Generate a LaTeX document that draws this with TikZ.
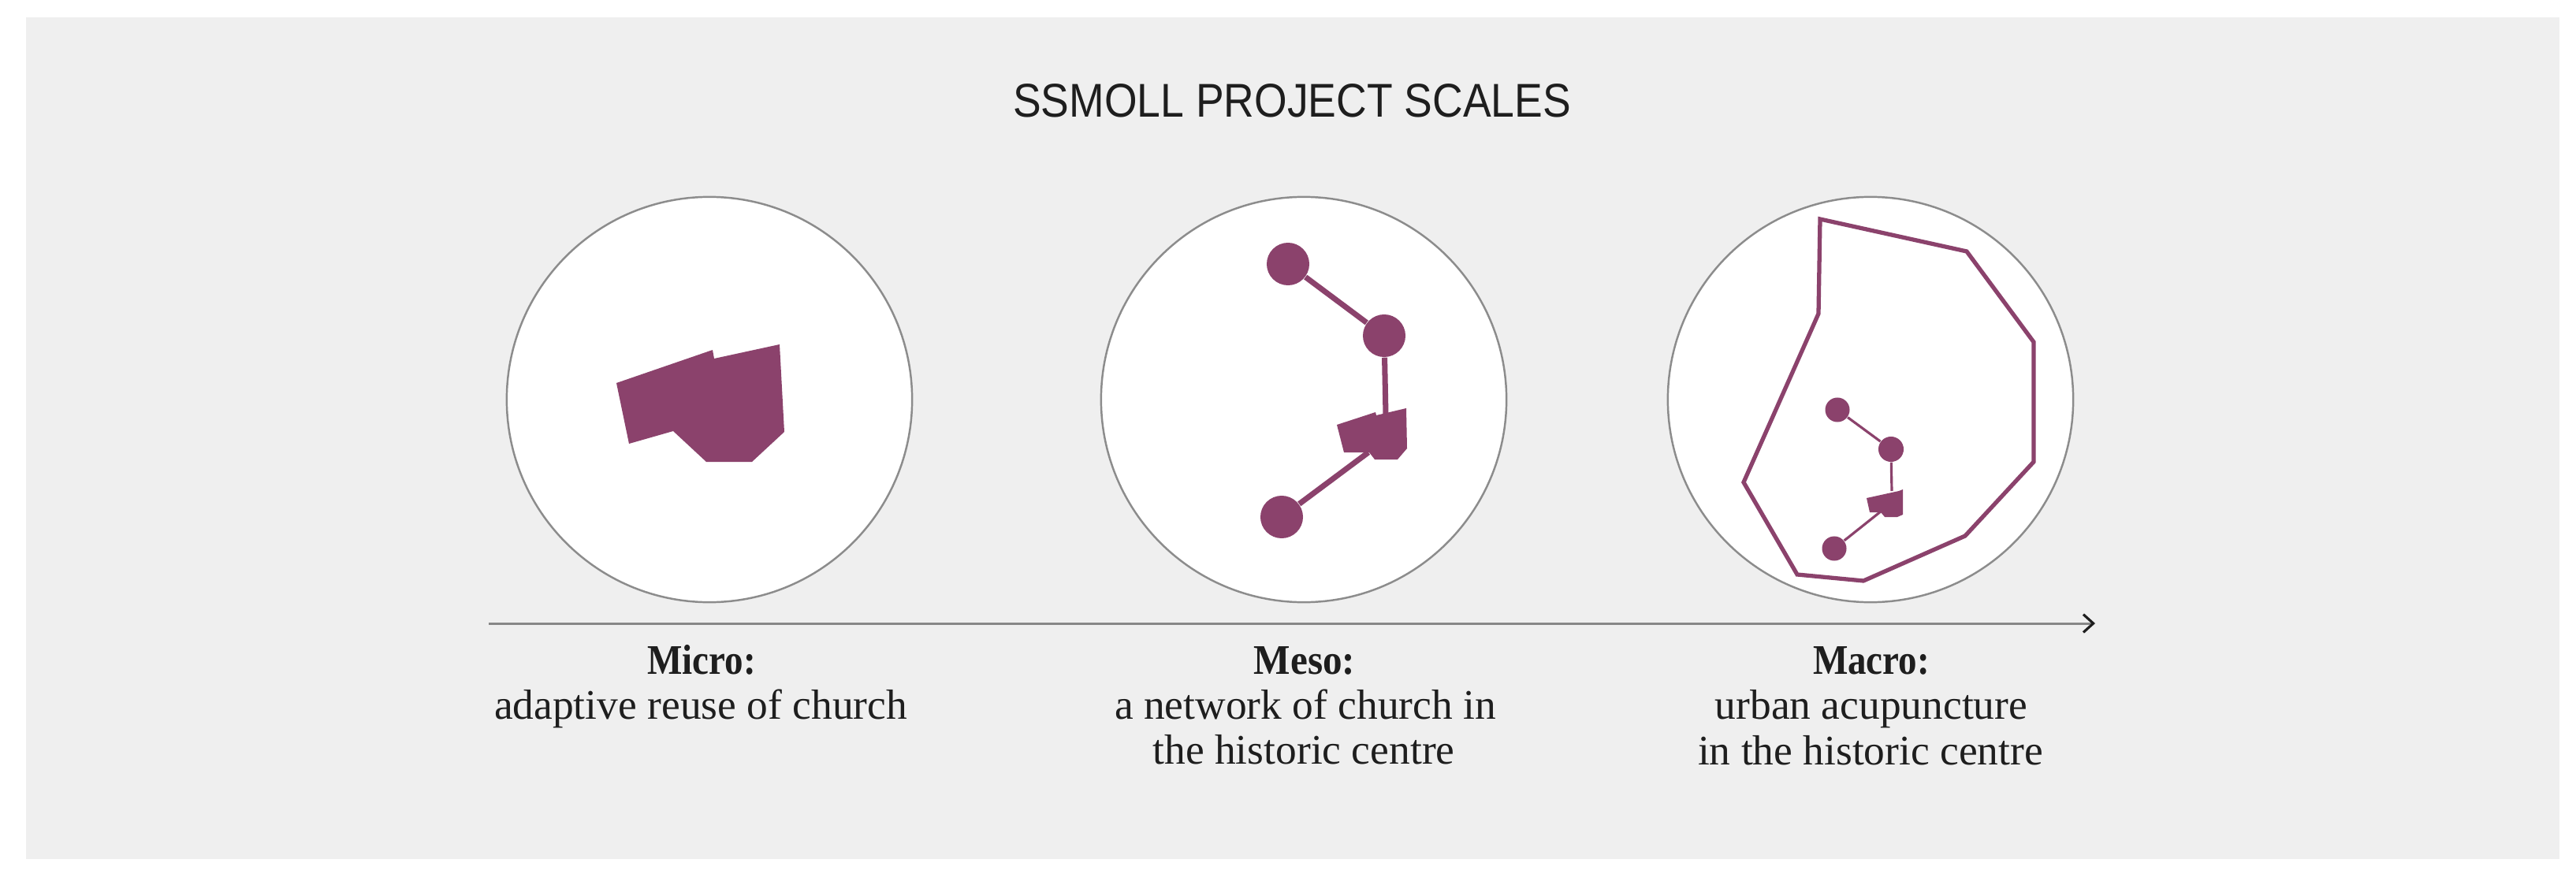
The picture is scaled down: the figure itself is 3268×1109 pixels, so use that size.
\documentclass[tikz,border=0pt]{standalone}
\usepackage{fontspec}
\setmainfont{Liberation Serif}
\newfontfamily\titlefont{Liberation Sans}
\usetikzlibrary{arrows.meta}
\definecolor{bgpanel}{RGB}{239,239,239}
\definecolor{plum}{RGB}{139,66,108}
\definecolor{ringgray}{RGB}{140,140,140}
\definecolor{axisgray}{RGB}{135,135,135}
\definecolor{inkdark}{RGB}{30,30,30}
\tikzset{
  ring/.style={circle, draw=ringgray, line width=0.7pt, fill=white, minimum size=5.14cm, inner sep=0pt},
  bigdot/.style={circle, fill=plum, minimum size=0.54cm, inner sep=0pt},
  smalldot/.style={circle, fill=plum, minimum size=0.31cm, inner sep=0pt},
  church/.style={fill=plum, draw=none},
  thicklink/.style={draw=plum, line width=2pt},
  thinlink/.style={draw=plum, line width=0.9pt},
  boundary/.style={draw=plum, line width=1.5pt, line join=miter},
  titletxt/.style={anchor=base, inner sep=0pt, text=inkdark, font=\titlefont\fontsize{17.1pt}{20pt}\selectfont},
  headtxt/.style={anchor=base, inner sep=0pt, text=inkdark, font=\bfseries\fontsize{15.2pt}{18pt}\selectfont},
  bodytxt/.style={anchor=base, inner sep=0pt, text=inkdark, font=\fontsize{15.2pt}{18pt}\selectfont},
}
\begin{document}
\begin{tikzpicture}[x=0.01cm,y=-0.01cm]
\useasboundingbox (0,0) rectangle (3268,1109);
\fill[bgpanel] (33,22) rectangle (3247,1090);

% title
\node[titletxt] (title) at (1639,148) {\scalebox{0.89}[1]{SSMOLL PROJECT SCALES}};

% rings
\node[ring] (ringmicro) at (900,507) {};
\node[ring] (ringmeso) at (1654,507) {};
\node[ring] (ringmacro) at (2373,507) {};

% micro: single church
\fill[church] (782,486) -- (904,444) -- (906,455) -- (989,437) -- (995,548) -- (954,586) -- (896,586) -- (854,547) -- (798,563) -- cycle;

% meso: network
\node[bigdot] (mesoA) at (1634,335) {};
\node[bigdot] (mesoB) at (1756,426) {};
\node[bigdot] (mesoC) at (1626,656) {};
\coordinate (mesoin) at (1758,526);
\coordinate (mesoout) at (1736,574);
\draw[thicklink] (mesoA) -- (mesoB);
\draw[thicklink] (mesoB) -- (mesoin);
\draw[thicklink] (mesoC) -- (mesoout);
\fill[church] (1696,539) -- (1745,523) -- (1746,527) -- (1784,518) -- (1785,569) -- (1773,583) -- (1744,583) -- (1737,574) -- (1705,574) -- cycle;

% macro: boundary and network
\draw[boundary] (2309,278) -- (2495,319) -- (2580,434) -- (2580,586) -- (2493,680) -- (2364,737) -- (2280,729) -- (2212,612) -- (2307,398) -- cycle;
\node[smalldot] (macroA) at (2331,520) {};
\node[smalldot, minimum size=0.32cm] (macroB) at (2399,570) {};
\node[smalldot] (macroC) at (2327,696) {};
\coordinate (macroin) at (2400,623);
\coordinate (macroout) at (2386,649);
\draw[thinlink] (macroA) -- (macroB);
\draw[thinlink] (macroB) -- (macroin);
\draw[thinlink] (macroC) -- (macroout);
\fill[church] (2368,632) -- (2409,623) -- (2414,621) -- (2414,653) -- (2407,656) -- (2391,656) -- (2386,650) -- (2372,650) -- cycle;

% axis
\coordinate (axisL) at (620,791);
\coordinate (axisR) at (2658,791);
\draw[axisgray, line width=0.85pt, -{Straight Barb[length=3.6pt, width=6.5pt, color=inkdark, line width=0.9pt]}] (axisL) -- (axisR);

% labels
\node[headtxt] (microhead) at (890,855) {\scalebox{0.88}[1]{Micro:}};
\node[bodytxt] (microbody) at (889,912) {adaptive reuse of church};
\node[headtxt] (mesohead) at (1655,855) {\scalebox{0.92}[1]{Meso:}};
\node[bodytxt] (mesobodyA) at (1656,912) {a network of church in};
\node[bodytxt] (mesobodyB) at (1654,969) {the historic centre};
\node[headtxt] (macrohead) at (2374,855) {\scalebox{0.88}[1]{Macro:}};
\node[bodytxt] (macrobodyA) at (2374,912) {urban acupuncture};
\node[bodytxt] (macrobodyB) at (2373,970) {in the historic centre};
\end{tikzpicture}
\end{document}
